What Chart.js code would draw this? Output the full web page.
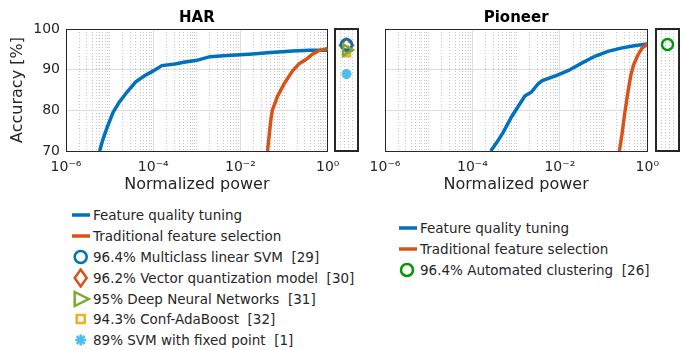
<!DOCTYPE html>
<html>
<head>
<meta charset="utf-8">
<script src="https://cdn.jsdelivr.net/npm/chart.js@4.4.0/dist/chart.umd.min.js"></script>
<style>
  body { margin: 0; width: 683px; height: 350px; position: relative; background: #fff; font-family: 'DejaVu Sans', sans-serif; color: #262626; overflow: hidden; }
  canvas { position: absolute; }
  .side { position: absolute; box-sizing: border-box; border: 2px solid #262626; width: 25px; height: 124px; }
  .side canvas { left: 0; top: 0; }
  .legend { position: absolute; font-size: 13.5px; white-space: pre; }
  .legend .row { height: 20.9px; display: flex; align-items: center; }
  .legend svg { flex: none; }
</style>
</head>
<body>
<canvas id="harMain" width="352" height="200" style="left:0;top:0"></canvas>
<canvas id="pioMain" width="354" height="200" style="left:318px;top:0"></canvas>
<div class="side" style="left:334px;top:28px"><canvas id="harSide" width="21" height="120"></canvas></div>
<div class="side" style="left:655px;top:28px"><canvas id="pioSide" width="21" height="120"></canvas></div>
<div id="harLegend" class="legend" style="left:70px;top:204.5px"></div>
<div id="pioLegend" class="legend" style="left:397px;top:217.6px"></div>

<script>
// --- data ---
const xTickValues = [1e-6, 1e-4, 1e-2, 1];
const xTickLabels = ['10⁻⁶', '10⁻⁴', '10⁻²', '10⁰'];
const yTickValues = [70, 80, 90, 100];

// HAR
const harFqtPower = [5.89e-6, 7.08e-6, 8.91e-6, 1.20e-5, 1.66e-5, 2.51e-5, 3.98e-5, 6.31e-5, 1.0e-4, 1.58e-4, 3.16e-4, 5.01e-4, 1.0e-3, 2.0e-3, 5.0e-3, 0.0158, 0.0501, 0.158, 0.398, 1];
const harFqtAcc   = [70, 73, 76, 79.5, 82, 84.5, 87, 88.5, 89.7, 91, 91.4, 91.8, 92.3, 93.2, 93.5, 93.8, 94.2, 94.6, 94.8, 94.8];
const harTfsPower = [0.0417, 0.0501, 0.0537, 0.0708, 0.1, 0.158, 0.224, 0.316, 0.447, 0.631, 1];
const harTfsAcc   = [70, 78, 80, 83.5, 86.5, 89.8, 91.5, 92.5, 93.8, 94.7, 95.2];
const harRefLabels = ['96.4% Multiclass linear SVM  [29]', '96.2% Vector quantization model  [30]', '95% Deep Neural Networks  [31]', '94.3% Conf-AdaBoost  [32]', '89% SVM with fixed point  [1]'];
const harRefAcc    = [96.4, 96.2, 95, 94.3, 89];
const harRefMarker = ['circle', 'diamond', 'triangle', 'square', 'star'];
const harRefColor  = ['#0072BD', '#D95319', '#77AC30', '#EDB120', '#4DBEEE'];

// Pioneer
const pioFqtPower = [2.63e-4, 3.55e-4, 5.01e-4, 7.94e-4, 1.12e-3, 1.58e-3, 2.24e-3, 3.16e-3, 3.98e-3, 7.94e-3, 0.0158, 0.0316, 0.0631, 0.126, 0.251, 0.501, 1];
const pioFqtAcc   = [70, 72, 74.5, 78.5, 81, 83.5, 84.5, 86.5, 87.3, 88.5, 89.8, 91.6, 93.3, 94.5, 95.3, 95.9, 96.3];
const pioTfsPower = [0.229, 0.263, 0.302, 0.355, 0.417, 0.479, 0.603, 0.759, 1];
const pioTfsAcc   = [70, 74, 79, 84, 88.5, 91, 93.5, 95.3, 96.3];
const pioRefLabels = ['96.4% Automated clustering  [26]'];
const pioRefAcc    = [96.4];
const pioRefMarker = ['circle'];
const pioRefColor  = ['#009900'];

const seriesLabels = ['Feature quality tuning', 'Traditional feature selection'];
const seriesColors = ['#0072BD', '#D95319'];

const AXIS = '#262626';
const FONT = "'DejaVu Sans'";
const DOT = [1, 2];

// minor grid positions: every 2..9 x decade plus the odd decades
const minorTicks = [];
for (let d = -6; d < 0; d++) {
  for (let k = 1; k <= 9; k++) {
    if (k === 1 && d % 2 === 0) continue;
    minorTicks.push(k * Math.pow(10, d));
  }
}

function pts(xs, ys) { return xs.map((x, i) => ({ x: x, y: ys[i] })); }

function mainChart(id, title, yWidth, rightWidth, showY, fqtX, fqtY, tfsX, tfsY) {
  const xRange = { type: 'logarithmic', min: xTickValues[0], max: xTickValues[xTickValues.length - 1] };
  new Chart(document.getElementById(id), {
    type: 'line',
    data: {
      datasets: [
        { label: seriesLabels[1], data: pts(tfsX, tfsY), borderColor: seriesColors[1], borderWidth: 3.5, pointRadius: 0, order: 0 },
        { label: seriesLabels[0], data: pts(fqtX, fqtY), borderColor: seriesColors[0], borderWidth: 3.5, pointRadius: 0, order: 1 }
      ]
    },
    options: {
      responsive: false,
      devicePixelRatio: 1,
      animation: false,
      events: [],
      layout: { autoPadding: false, padding: 0 },
      plugins: { legend: { display: false }, tooltip: { enabled: false }, title: { display: false } },
      scales: {
        x: Object.assign({}, xRange, {
          position: 'bottom',
          afterBuildTicks: s => { s.ticks = xTickValues.map(v => ({ value: v })); },
          afterFit: s => { s.height = 49; },
          ticks: {
            autoSkip: false, maxRotation: 0, padding: 8, color: AXIS,
            font: { family: FONT, size: 14 },
            callback: v => xTickLabels[xTickValues.indexOf(v)]
          },
          grid: {
            drawTicks: false, lineWidth: 1,
            color: c => (c.tick && (c.tick.value === xTickValues[0] || c.tick.value === xTickValues[xTickValues.length - 1])) ? 'rgba(0,0,0,0)' : '#dedede'
          },
          border: { display: true, color: AXIS, width: 1 },
          title: { display: true, text: 'Normalized power', color: AXIS, font: { family: FONT, size: 16 }, padding: { top: 0, bottom: 6 } }
        }),
        xMinor: Object.assign({}, xRange, {
          position: 'top',
          afterBuildTicks: s => { s.ticks = minorTicks.map(v => ({ value: v })); },
          ticks: { display: false, autoSkip: false },
          grid: { drawTicks: false, color: '#c8c8c8', lineWidth: 1, borderDash: DOT },
          border: { display: false, dash: DOT }
        }),
        xTop: Object.assign({}, xRange, {
          position: 'top',
          afterBuildTicks: s => { s.ticks = []; },
          ticks: { display: false },
          grid: { display: false, drawTicks: false },
          border: { display: true, color: AXIS, width: 1 },
          title: { display: true, text: title, color: '#000', font: { family: FONT, size: 15, weight: 'bold' }, padding: { top: 9.5, bottom: 1.5 } }
        }),
        y: {
          position: 'left', min: 70, max: 100,
          afterBuildTicks: s => { s.ticks = yTickValues.map(v => ({ value: v })); },
          afterFit: s => { s.width = yWidth; },
          ticks: { display: showY, padding: 6, color: AXIS, font: { family: FONT, size: 14 } },
          grid: {
            drawTicks: false, lineWidth: 1,
            color: c => (c.tick && (c.tick.value === 70 || c.tick.value === 100)) ? 'rgba(0,0,0,0)' : '#dedede'
          },
          border: { display: true, color: AXIS, width: 1 },
          title: { display: showY, text: 'Accuracy [%]', color: AXIS, font: { family: FONT, size: 16 }, padding: { top: 8, bottom: 0 } }
        },
        yRight: {
          position: 'right', min: 70, max: 100,
          afterFit: s => { s.width = rightWidth; },
          ticks: { display: false },
          grid: { display: false, drawTicks: false },
          border: { display: true, color: AXIS, width: 1 }
        }
      }
    }
  });
}

const pointStyleOf = { circle: 'circle', diamond: 'rectRot', triangle: 'triangle', square: 'rect', star: 'star' };
const radiusOf = { circle: 5.5, diamond: 6.5, triangle: 6.5, square: 5, star: 5 };

function sideChart(id, accs, markers, colors) {
  const datasets = accs.map((a, i) => ({
    data: [{ x: 0.5, y: a }],
    pointStyle: pointStyleOf[markers[i]],
    rotation: markers[i] === 'triangle' ? 90 : 0,
    pointRadius: radiusOf[markers[i]],
    borderColor: colors[i],
    backgroundColor: 'rgba(0,0,0,0)',
    pointBorderWidth: markers[i] === 'star' ? 3 : 2.5,
    showLine: false,
    order: markers[i] === 'triangle' ? 0 : i + 1
  }));
  new Chart(document.getElementById(id), {
    type: 'line',
    data: { datasets: datasets },
    options: {
      responsive: false,
      devicePixelRatio: 1,
      animation: false,
      events: [],
      clip: false,
      layout: { autoPadding: false, padding: 0 },
      plugins: { legend: { display: false }, tooltip: { enabled: false } },
      scales: {
        x: {
          type: 'linear', min: 0, max: 1,
          afterBuildTicks: s => { s.ticks = [0.2, 0.4, 0.6, 0.8].map(v => ({ value: v })); },
          ticks: { display: false },
          grid: { drawTicks: false, color: '#c8c8c8', borderDash: DOT },
          border: { display: false, dash: DOT }
        },
        y: { type: 'linear', min: 70, max: 100, display: false }
      }
    }
  });
}

function swatch(kind, color, cx) {
  let inner = '';
  if (kind === 'line') inner = `<line x1="2" y1="10" x2="20" y2="10" stroke="${color}" stroke-width="3.5"/>`;
  if (kind === 'circle') inner = `<circle cx="${cx}" cy="10" r="6" fill="none" stroke="${color}" stroke-width="2.5"/>`;
  if (kind === 'diamond') inner = `<polygon points="${cx},1.5 ${cx + 6},10 ${cx},18.5 ${cx - 6},10" fill="none" stroke="${color}" stroke-width="2.5"/>`;
  if (kind === 'triangle') inner = `<polygon points="${cx - 6},3 ${cx + 8},10 ${cx - 6},17" fill="none" stroke="${color}" stroke-width="2.5"/>`;
  if (kind === 'square') inner = `<rect x="${cx - 4}" y="6" width="8" height="8" fill="none" stroke="${color}" stroke-width="2.5"/>`;
  if (kind === 'star') inner = `<g stroke="${color}" stroke-width="2.5"><line x1="${cx - 5.5}" y1="10" x2="${cx + 5.5}" y2="10"/><line x1="${cx}" y1="4.5" x2="${cx}" y2="15.5"/><line x1="${cx - 4}" y1="6" x2="${cx + 4}" y2="14"/><line x1="${cx - 4}" y1="14" x2="${cx + 4}" y2="6"/></g>`;
  return `<svg width="23" height="20" viewBox="0 0 23 20">${inner}</svg>`;
}

function buildLegend(id, refLabels, refMarkers, refColors, cx) {
  const box = document.getElementById(id);
  const rows = [];
  seriesLabels.forEach((l, i) => rows.push(`<div class="row">${swatch('line', seriesColors[i], cx)}<span>${l}</span></div>`));
  refLabels.forEach((l, i) => rows.push(`<div class="row">${swatch(refMarkers[i], refColors[i], cx)}<span>${l}</span></div>`));
  box.innerHTML = rows.join('');
}

mainChart('harMain', 'HAR', 66, 24.3, true, harFqtPower, harFqtAcc, harTfsPower, harTfsAcc);
mainChart('pioMain', 'Pioneer', 67, 24.7, false, pioFqtPower, pioFqtAcc, pioTfsPower, pioTfsAcc);
sideChart('harSide', harRefAcc, harRefMarker, harRefColor);
sideChart('pioSide', pioRefAcc, pioRefMarker, pioRefColor);
buildLegend('harLegend', harRefLabels, harRefMarker, harRefColor, 10.7);
buildLegend('pioLegend', pioRefLabels, pioRefMarker, pioRefColor, 10);
</script>
</body>
</html>
